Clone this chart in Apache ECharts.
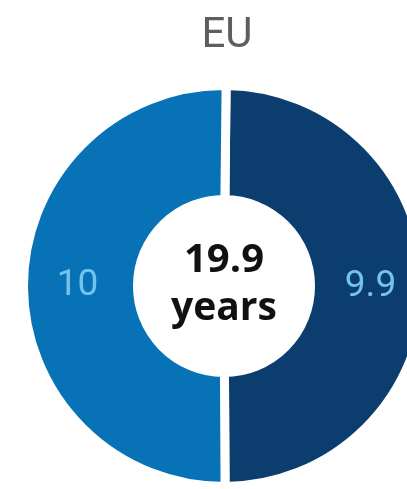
<!DOCTYPE html>
<html>
<head>
<meta charset="utf-8">
<style>
  html, body { margin: 0; padding: 0; background: #ffffff; }
  #chart { width: 407px; height: 489px; }
</style>
<script src="https://cdn.jsdelivr.net/npm/echarts@6/dist/echarts.min.js"></script>
</head>
<body>
<div id="chart"></div>
<script>
// Life expectancy split shown as a donut, EU total in the middle
const regionTitle = 'EU';
const categories = ['Part B', 'Part A'];
const values = [9.9, 10];
const sliceColors = ['#0b3e6e', '#0872b6'];
const unitLabel = 'years';

const total = values.reduce((a, b) => a + b, 0);

const CX = 224, CY = 286;
const GAP = 9; // white separator stroke between slices

const chart = echarts.init(document.getElementById('chart'), null, { renderer: 'canvas' });

chart.setOption({
  animation: false,
  backgroundColor: '#ffffff',
  title: {
    text: regionTitle,
    left: 222,
    textAlign: 'center',
    top: 10,
    textStyle: {
      fontFamily: 'Roboto, sans-serif',
      fontWeight: 'normal',
      fontSize: 42,
      color: '#5e5e5e'
    }
  },
  graphic: [{
    type: 'text',
    x: CX,
    y: CY - 2,
    style: {
      text: '{v|' + total.toFixed(1) + '}\n{u|' + unitLabel + '}',
      align: 'center',
      verticalAlign: 'middle',
      rich: {
        v: { fontFamily: 'Open Sans, sans-serif', fontWeight: 'bold', fontSize: 40, lineHeight: 50, fill: '#111111' },
        u: { fontFamily: 'Open Sans, sans-serif', fontWeight: 'bold', fontSize: 39, lineHeight: 46, fill: '#111111' }
      }
    }
  }],
  series: [{
    type: 'pie',
    center: [CX, CY],
    radius: [91 - GAP / 2, 196 + GAP / 2],
    startAngle: 89.4,
    clockwise: true,
    silent: true,
    itemStyle: {
      borderColor: '#ffffff',
      borderWidth: GAP
    },
    label: {
      show: true,
      position: 'inside',
      formatter: p => String(p.value),
      fontFamily: 'Roboto, sans-serif',
      fontWeight: 'normal',
      fontSize: 37,
      color: '#74c3ec'
    },
    labelLine: { show: false },
    data: categories.map((name, i) => ({
      name: name,
      value: values[i],
      itemStyle: { color: sliceColors[i] }
    }))
  }]
});
</script>
</body>
</html>
